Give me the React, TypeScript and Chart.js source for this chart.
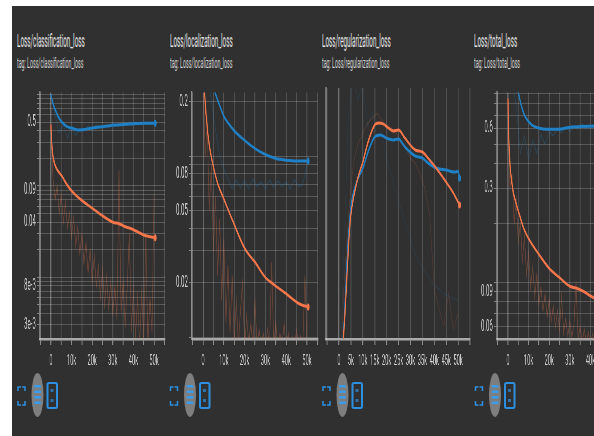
import React, { useEffect, useRef } from "react";
import { Chart, registerables } from "chart.js";

Chart.register(...registerables);

// ---------- styling constants ----------
const SX = 0.38; // horizontal squeeze of the screenshot
const ORANGE = "#f4764a";
const BLUE = "#1f80c6";
const BG = "#303030";

// ---------- data ----------
const TITLES = [
  "Loss/classification_loss",
  "Loss/localization_loss",
  "Loss/regularization_loss",
  "Loss/total_loss",
];

const RAW_STEPS_1K = [
  0, 1000, 2000, 3000, 4000, 5000, 6000, 7000, 8000, 9000, 10000, 11000, 12000, 13000, 14000, 15000, 16000,
  17000, 18000, 19000, 20000, 21000, 22000, 23000, 24000, 25000, 26000, 27000, 28000, 29000, 30000, 31000,
  32000, 33000, 34000, 35000, 36000, 37000, 38000, 39000, 40000, 41000, 42000, 43000, 44000, 45000, 46000,
  47000, 48000, 49000, 50000,
];
const RAW_STEPS_2K = [
  0, 2000, 4000, 6000, 8000, 10000, 12000, 14000, 16000, 18000, 20000, 22000, 24000, 26000, 28000, 30000,
  32000, 34000, 36000, 38000, 40000, 42000, 44000, 46000, 48000, 50000,
];

// classification loss
const CLS_BLUE_STEPS = [0, 1000, 2000, 3700, 5300, 7800, 10000, 13000, 16000, 20000, 25000, 30000, 35000, 40000, 46000, 50600];
const CLS_BLUE_VALS = [1.0, 0.8, 0.69, 0.56, 0.5, 0.445, 0.43, 0.41, 0.415, 0.43, 0.445, 0.46, 0.47, 0.48, 0.485, 0.485];
const CLS_ORANGE_STEPS = [0, 300, 600, 1000, 2000, 3000, 5300, 7500, 10000, 15000, 20000, 25000, 30000, 33000, 35000, 40000, 45000, 50600];
const CLS_ORANGE_VALS = [0.47, 0.33, 0.25, 0.21, 0.168, 0.15, 0.128, 0.105, 0.088, 0.069, 0.057, 0.047, 0.04, 0.0385, 0.0365, 0.033, 0.029, 0.027];
const CLS_ORANGE_RAW = [
  0.45, 0.12, 0.07, 0.1, 0.05, 0.08, 0.04, 0.065, 0.035, 0.05, 0.028, 0.045, 0.022, 0.035, 0.018, 0.03, 0.014,
  0.024, 0.011, 0.02, 0.009, 0.017, 0.008, 0.013, 0.006, 0.012, 0.005, 0.01, 0.0045, 0.009, 0.004, 0.008,
  0.0035, 0.15, 0.004, 0.009, 0.003, 0.008, 0.03, 0.0028, 0.007, 0.0022, 0.006, 0.0018, 0.007, 0.002, 0.03,
  0.0019, 0.006, 0.0025, 0.08,
];
const CLS_BLUE_RAW = [0.95, 0.6, 0.38, 0.47, 0.33, 0.44, 0.36, 0.42, 0.4, 0.45, 0.41, 0.47, 0.43, 0.46, 0.44, 0.49, 0.45, 0.48, 0.47, 0.5, 0.46, 0.49, 0.47, 0.5, 0.48, 0.49];
const CLS_Y_LABELS: [number, string][] = [[0.5, "0.5"], [0.09, "0.09"], [0.04, "0.04"], [0.008, "8e-3"], [0.003, "3e-3"]];

// localization loss
const LOC_BLUE_STEPS = [0, 2000, 4000, 6000, 8000, 10000, 12500, 15000, 20000, 25000, 30000, 35000, 40000, 45000, 50600];
const LOC_BLUE_VALS = [0.42, 0.32, 0.26, 0.22, 0.19, 0.166, 0.15, 0.138, 0.122, 0.11, 0.102, 0.097, 0.095, 0.094, 0.094];
const LOC_ORANGE_STEPS = [0, 1000, 2000, 3000, 4300, 7000, 10000, 15000, 20000, 25000, 30000, 33000, 40000, 46000, 50600];
const LOC_ORANGE_VALS = [0.35, 0.2, 0.145, 0.115, 0.095, 0.071, 0.058, 0.042, 0.031, 0.026, 0.0214, 0.02, 0.0174, 0.0154, 0.0147];
const LOC_ORANGE_RAW = [
  0.3, 0.1, 0.15, 0.05, 0.09, 0.03, 0.06, 0.022, 0.045, 0.016, 0.035, 0.012, 0.025, 0.0105, 0.022, 0.0095, 0.016,
  0.009, 0.014, 0.02, 0.009, 0.013, 0.0092, 0.012, 0.009, 0.016, 0.0088, 0.011, 0.009, 0.0105, 0.0088, 0.011,
  0.009, 0.026, 0.009, 0.012, 0.0088, 0.0105, 0.009, 0.012, 0.0085, 0.0105, 0.0088, 0.01, 0.009, 0.011, 0.0088,
  0.0102, 0.009, 0.022, 0.009,
];
const LOC_BLUE_RAW = [0.4, 0.3, 0.2, 0.14, 0.1, 0.085, 0.075, 0.066, 0.074, 0.067, 0.073, 0.066, 0.075, 0.068, 0.072, 0.066, 0.074, 0.067, 0.073, 0.068, 0.072, 0.066, 0.074, 0.068, 0.07, 0.09];
const LOC_Y_LABELS: [number, string][] = [[0.2, "0.2"], [0.08, "0.08"], [0.05, "0.05"], [0.02, "0.02"]];

// regularization loss (no y labels shown; relative units)
const REG_BLUE_STEPS = [0, 1700, 3800, 5000, 7200, 10000, 12200, 15000, 17400, 20000, 22700, 25000, 27700, 32000, 35000, 37400, 40800, 45000, 48700, 50000, 50600];
const REG_BLUE_VALS = [-0.08, 0, 0.39, 0.526, 0.62, 0.68, 0.745, 0.805, 0.813, 0.8, 0.793, 0.797, 0.765, 0.729, 0.721, 0.701, 0.681, 0.673, 0.665, 0.668, 0.64];
const REG_ORANGE_STEPS = [0, 1800, 4600, 5500, 8000, 10000, 12200, 15000, 16700, 18500, 20700, 22700, 25000, 27700, 32000, 35000, 37400, 40800, 45000, 48000, 50600];
const REG_ORANGE_VALS = [-0.1, 0, 0.46, 0.53, 0.645, 0.705, 0.785, 0.853, 0.861, 0.857, 0.841, 0.829, 0.833, 0.8, 0.753, 0.745, 0.721, 0.681, 0.625, 0.582, 0.534];
const REG_BLUE_RAW = [-0.3, 0.35, 0.9, 1.05, 0.95, 1.02, 0.85, 0.9, 0.8, 0.82, 0.72, 0.65, 0.58, 0.52, 0.46, 0.4, 0.34, 0.3, 0.27, 0.24, 0.21, 0.2, 0.18, 0.17, 0.16, 0.155];
const REG_ORANGE_RAW = [-0.3, 0.2, 0.5, 0.7, 0.78, 0.82, 0.86, 0.88, 0.9, 0.87, 0.85, 0.84, 0.82, 0.78, 0.76, 0.72, 0.7, 0.66, 0.6, 0.5, 0.2, 0.12, 0.05, 0.18, 0.04, 0.1];

// total loss
const TOT_BLUE_STEPS = [0, 2000, 4000, 5000, 6500, 8000, 10000, 12000, 14000, 17000, 20000, 25000, 28000, 31000, 35000, 40000, 45000, 50600];
const TOT_BLUE_VALS = [1.3, 1.1, 0.96, 0.91, 0.78, 0.7, 0.65, 0.62, 0.607, 0.597, 0.594, 0.595, 0.603, 0.61, 0.613, 0.616, 0.618, 0.62];
const TOT_ORANGE_STEPS = [0, 300, 600, 1300, 2500, 4000, 5600, 7500, 10000, 15000, 20000, 25000, 30000, 33000, 36000, 41500, 46000, 50600];
const TOT_ORANGE_VALS = [0.85, 0.6, 0.47, 0.36, 0.29, 0.25, 0.22, 0.19, 0.167, 0.139, 0.118, 0.106, 0.096, 0.094, 0.091, 0.084, 0.08, 0.077];
const TOT_ORANGE_RAW = [
  0.8, 0.3, 0.35, 0.2, 0.26, 0.16, 0.2, 0.13, 0.17, 0.11, 0.14, 0.095, 0.12, 0.085, 0.11, 0.078, 0.095, 0.072,
  0.088, 0.067, 0.082, 0.064, 0.076, 0.06, 0.072, 0.058, 0.085, 0.056, 0.066, 0.054, 0.064, 0.053, 0.062, 0.1,
  0.052, 0.06, 0.05, 0.058, 0.05, 0.056, 0.049, 0.055, 0.048, 0.054, 0.048, 0.053, 0.047, 0.06, 0.048, 0.052,
  0.047,
];
const TOT_BLUE_RAW = [1.3, 1.0, 0.8, 0.45, 0.55, 0.42, 0.52, 0.45, 0.56, 0.5, 0.58, 0.55, 0.6, 0.57, 0.61, 0.58, 0.62, 0.6, 0.63, 0.6, 0.62, 0.6, 0.63, 0.61, 0.62, 0.62];
const TOT_Y_LABELS: [number, string][] = [[0.6, "0.6"], [0.3, "0.3"], [0.09, "0.09"], [0.06, "0.06"]];

// ---------- helpers ----------
type Pt = { x: number; y: number };
const zip = (xs: number[], ys: number[]): Pt[] => xs.map((x, i) => ({ x, y: ys[i] }));

type Panel = {
  left: number;
  width: number;
  axisW: number;
  padR: number;
  xMin: number;
  xMax: number;
  xLabelStep: number;
  yType: "logarithmic" | "linear";
  yMin: number;
  yMax: number;
  yLabels: [number, string][];
  rawAlpha: number;
  orange: Pt[];
  blue: Pt[];
  orangeRaw: Pt[];
  blueRaw: Pt[];
};

const PANELS: Panel[] = [
  {
    left: 12, width: 160, axisW: 28, padR: 7, xMin: -5300, xMax: 55300, xLabelStep: 10000,
    yType: "logarithmic", yMin: 0.0021, yMax: 1.05, yLabels: CLS_Y_LABELS, rawAlpha: 0.28,
    orange: zip(CLS_ORANGE_STEPS, CLS_ORANGE_VALS), blue: zip(CLS_BLUE_STEPS, CLS_BLUE_VALS),
    orangeRaw: zip(RAW_STEPS_1K, CLS_ORANGE_RAW), blueRaw: zip(RAW_STEPS_2K, CLS_BLUE_RAW),
  },
  {
    left: 170, width: 152, axisW: 22, padR: 4, xMin: -5300, xMax: 55300, xLabelStep: 10000,
    yType: "logarithmic", yMin: 0.0098, yMax: 0.224, yLabels: LOC_Y_LABELS, rawAlpha: 0.28,
    orange: zip(LOC_ORANGE_STEPS, LOC_ORANGE_VALS), blue: zip(LOC_BLUE_STEPS, LOC_BLUE_VALS),
    orangeRaw: zip(RAW_STEPS_1K, LOC_ORANGE_RAW), blueRaw: zip(RAW_STEPS_2K, LOC_BLUE_RAW),
  },
  {
    left: 322, width: 152, axisW: 4, padR: 4, xMin: -5460, xMax: 55000, xLabelStep: 5000,
    yType: "linear", yMin: 0, yMax: 1, yLabels: [], rawAlpha: 0.13,
    orange: zip(REG_ORANGE_STEPS, REG_ORANGE_VALS), blue: zip(REG_BLUE_STEPS, REG_BLUE_VALS),
    orangeRaw: zip(RAW_STEPS_2K, REG_ORANGE_RAW), blueRaw: zip(RAW_STEPS_2K, REG_BLUE_RAW),
  },
  {
    left: 474, width: 152, axisW: 23, padR: 4, xMin: -5300, xMax: 55300, xLabelStep: 10000,
    yType: "logarithmic", yMin: 0.052, yMax: 0.91, yLabels: TOT_Y_LABELS, rawAlpha: 0.28,
    orange: zip(TOT_ORANGE_STEPS, TOT_ORANGE_VALS), blue: zip(TOT_BLUE_STEPS, TOT_BLUE_VALS),
    orangeRaw: zip(RAW_STEPS_1K, TOT_ORANGE_RAW), blueRaw: zip(RAW_STEPS_2K, TOT_BLUE_RAW),
  },
];

function logGrid(min: number, max: number): number[] {
  const out: number[] = [];
  for (let e = Math.floor(Math.log10(min)); e <= Math.ceil(Math.log10(max)); e++) {
    for (let m = 1; m <= 9; m++) {
      const v = parseFloat((m * Math.pow(10, e)).toPrecision(6));
      if (v >= min && v <= max) out.push(v);
    }
  }
  return out;
}

const CANVAS_H = 295;
const CANVAS_TOP = 80;

function smoothDs(data: Pt[], color: string) {
  const n = data.length;
  return {
    data,
    borderColor: color,
    backgroundColor: color,
    borderWidth: 3,
    tension: 0.3,
    cubicInterpolationMode: "monotone" as const,
    pointRadius: (ctx: any) => (ctx.dataIndex === n - 1 ? 3.5 : 0),
    pointBorderWidth: 0,
    pointBackgroundColor: color,
  };
}

function rawDs(data: Pt[], color: string) {
  return {
    data,
    borderColor: color,
    borderWidth: 2,
    tension: 0,
    pointRadius: 0,
  };
}

function PanelChart({ p }: { p: Panel }) {
  const ref = useRef<HTMLCanvasElement | null>(null);
  const cw = Math.round(p.width / SX);

  useEffect(() => {
    if (!ref.current) return;
    const labelFor = (v: number) => {
      for (const [lv, s] of p.yLabels) if (Math.abs(v - lv) / lv < 1e-6) return s;
      return "";
    };
    const chart = new Chart(ref.current, {
      type: "line",
      data: {
        datasets: [
          smoothDs(p.orange, ORANGE),
          smoothDs(p.blue, BLUE),
          rawDs(p.orangeRaw, `rgba(244,118,74,${p.rawAlpha})`),
          rawDs(p.blueRaw, `rgba(31,128,198,${p.rawAlpha * 0.8})`),
        ] as any,
      },
      options: {
        animation: false,
        responsive: false,
        events: [],
        plugins: { legend: { display: false }, tooltip: { enabled: false } },
        layout: { padding: { left: 0, right: p.padR / SX, top: 8, bottom: 0 } },
        scales: {
          x: {
            type: "linear",
            min: p.xMin,
            max: p.xMax,
            afterFit: (s: any) => {
              s.height = 36;
            },
            afterBuildTicks: (axis: any) => {
              const t: { value: number }[] = [];
              for (let v = Math.ceil(p.xMin / 5000) * 5000; v <= p.xMax; v += 5000) t.push({ value: v });
              axis.ticks = t;
            },
            ticks: {
              autoSkip: false,
              maxRotation: 0,
              minRotation: 0,
              padding: 7,
              color: "#d0d0d0",
              font: { family: "Roboto", size: 15 },
              callback: (value: any) => {
                const v = Number(value);
                if (v < 0 || v > 50000 || v % p.xLabelStep !== 0) return "";
                return v === 0 ? "0" : `${v / 1000}k`;
              },
            },
            grid: {
              color: (ctx: any) =>
                ctx.tick && ctx.tick.value === 0 ? "rgba(255,255,255,0.38)" : "rgba(255,255,255,0.17)",
              lineWidth: 2.5,
              tickLength: 6,
              tickColor: "rgba(255,255,255,0.45)",
            },
            border: { display: true, color: "#a9a9a9", width: 2.5 },
          },
          y: {
            type: p.yType,
            min: p.yMin,
            max: p.yMax,
            afterFit: (s: any) => {
              s.width = p.axisW / SX;
            },
            ...(p.yType === "logarithmic"
              ? {
                  afterBuildTicks: (axis: any) => {
                    axis.ticks = logGrid(p.yMin, p.yMax).map((v) => ({ value: v }));
                  },
                }
              : {}),
            ticks: {
              display: p.yType === "logarithmic",
              autoSkip: false,
              padding: 3,
              color: "#d0d0d0",
              font: { family: "Roboto", size: 16 },
              callback: (value: any) => labelFor(Number(value)),
            },
            grid: {
              display: p.yType === "logarithmic",
              color: "rgba(255,255,255,0.2)",
              lineWidth: 1,
              tickLength: 8,
              tickColor: "rgba(255,255,255,0.4)",
            },
            border: { display: true, color: "rgba(255,255,255,0.45)", width: 3 },
          },
        },
      } as any,
    });
    return () => chart.destroy();
  }, [p]);

  return (
    <div
      style={{
        position: "absolute",
        left: p.left,
        top: CANVAS_TOP,
        width: cw,
        height: CANVAS_H,
        transform: `scaleX(${SX})`,
        transformOrigin: "0 0",
      }}
    >
      <canvas ref={ref} width={cw} height={CANVAS_H} />
    </div>
  );
}

const TITLE_X = [17, 170, 322, 474];
const ICON_DX = [0, 152.5, 305, 457.5];

function Icons({ dx }: { dx: number }) {
  const c = "#2d8fe0";
  return (
    <g transform={`translate(${dx},0)`}>
      <g stroke={c} strokeWidth={1.5} fill="none">
        <path d="M18,391 V387 H21" />
        <path d="M22,387 H25 V391" />
        <path d="M18,401 V405 H21" />
        <path d="M22,405 H25 V401" />
      </g>
      <ellipse cx={37.5} cy={395} rx={6} ry={22} fill="#7e7e7e" />
      <rect x={34} y={385} width={7} height={2.5} rx={1} fill="#3b9ceb" />
      <rect x={34} y={390.5} width={7} height={2.5} rx={1} fill="#3b9ceb" />
      <rect x={34} y={396} width={7} height={2.5} rx={1} fill="#3b9ceb" />
      <rect x={34} y={401.5} width={7} height={2.5} rx={1} fill="#3b9ceb" />
      <rect x={47.5} y={383} width={9.5} height={25} rx={1.5} fill="none" stroke={c} strokeWidth={2} />
      <rect x={50.5} y={389} width={3} height={3} fill={c} opacity={0.7} />
      <rect x={50.5} y={399} width={3} height={3} fill={c} opacity={0.7} />
    </g>
  );
}

export default function App() {
  return (
    <div style={{ position: "fixed", left: 0, top: 0, width: 594, height: 436, overflow: "hidden", background: "#fff" }}>
      <div style={{ position: "absolute", left: 12, top: 6, width: 582, height: 430, background: BG }} />
      {TITLES.map((t, i) => (
        <React.Fragment key={t}>
          <div
            style={{
              position: "absolute",
              left: TITLE_X[i],
              top: 32,
              whiteSpace: "nowrap",
              fontFamily: "Roboto, sans-serif",
              fontSize: 18,
              lineHeight: "18px",
              color: "#e4e4e4",
              transform: "scaleX(0.35)",
              transformOrigin: "0 0",
            }}
          >
            {t}
          </div>
          <div
            style={{
              position: "absolute",
              left: TITLE_X[i],
              top: 55,
              whiteSpace: "nowrap",
              fontFamily: "Roboto, sans-serif",
              fontSize: 15,
              lineHeight: "16px",
              color: "#d4d4d4",
              transform: "scaleX(0.35)",
              transformOrigin: "0 0",
            }}
          >
            {`tag: ${t}`}
          </div>
        </React.Fragment>
      ))}
      {PANELS.map((p, i) => (
        <PanelChart key={i} p={p} />
      ))}
      <svg width={594} height={436} style={{ position: "absolute", left: 0, top: 0 }}>
        {ICON_DX.map((dx, i) => (
          <Icons key={i} dx={dx} />
        ))}
      </svg>
    </div>
  );
}
